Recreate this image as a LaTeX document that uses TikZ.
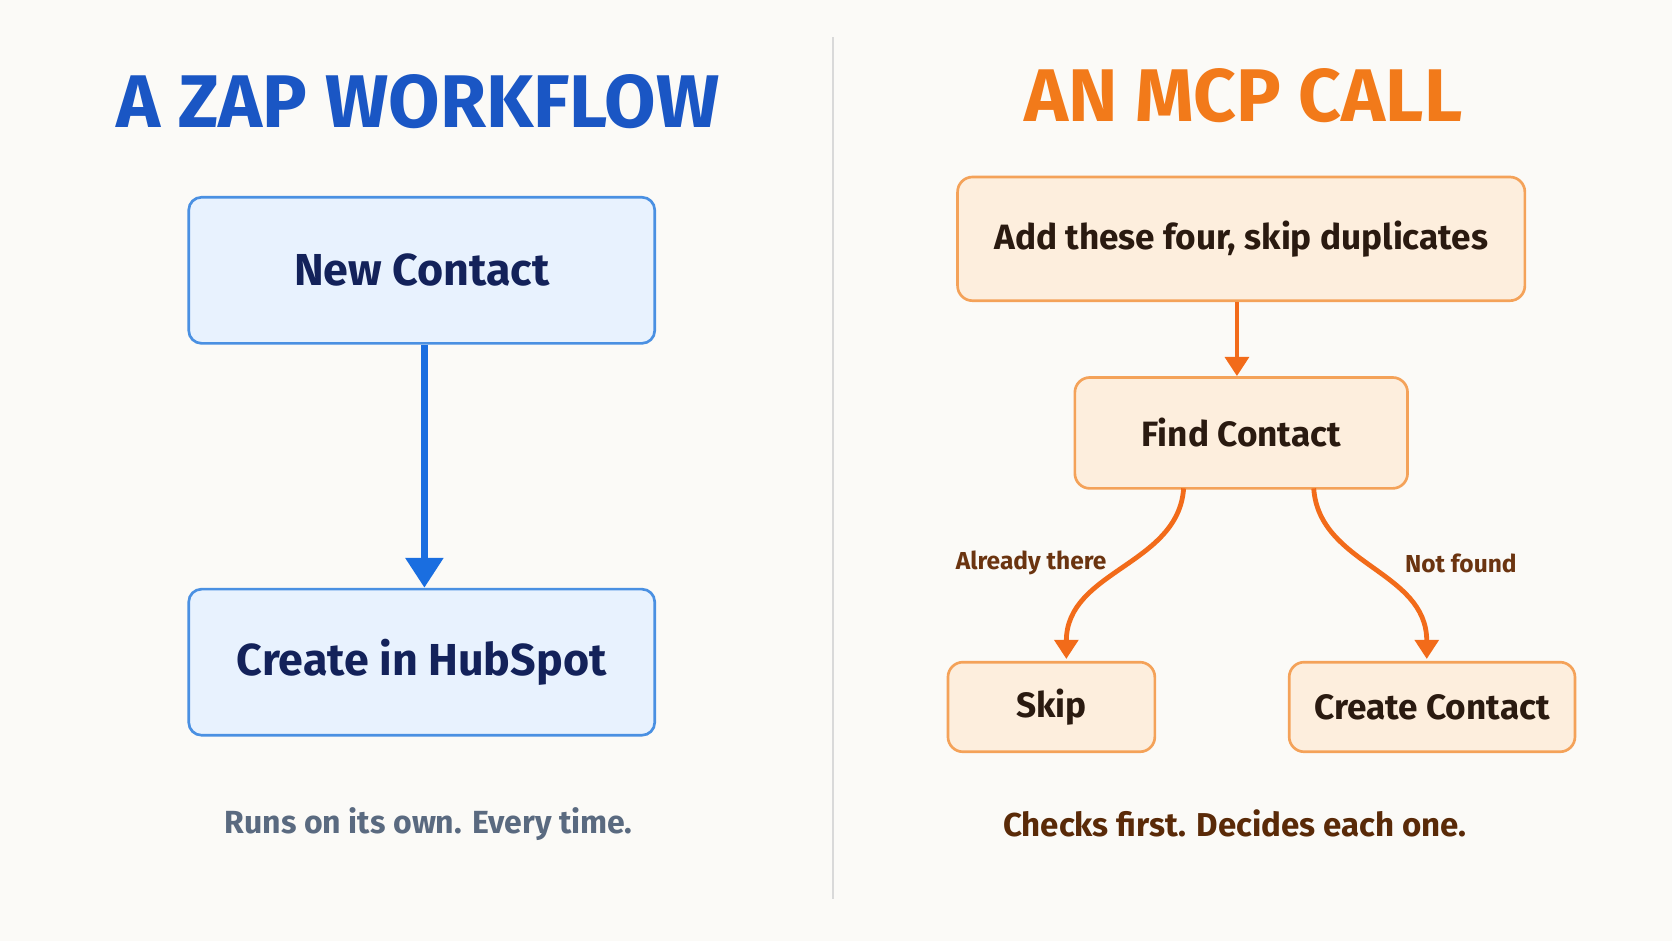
\documentclass[tikz,border=0pt]{standalone}
\usepackage{fontspec}
\setmainfont{Fira Sans}
\usetikzlibrary{arrows.meta}
\definecolor{bg}{HTML}{FBFAF7}
\definecolor{zblue}{HTML}{1A56C4}
\definecolor{zarrow}{HTML}{1A6EE0}
\definecolor{zfill}{HTML}{E8F2FE}
\definecolor{zbord}{HTML}{4A90E2}
\definecolor{navy}{HTML}{13225A}
\definecolor{cgray}{HTML}{5A6A80}
\definecolor{morange}{HTML}{F27A1A}
\definecolor{marrow}{HTML}{F26B1A}
\definecolor{mfill}{HTML}{FDEEDD}
\definecolor{mbord}{HTML}{F4A259}
\definecolor{mtext}{HTML}{2A1A10}
\definecolor{brown}{HTML}{6B3410}
\definecolor{cbrown}{HTML}{5A2A08}
\begin{document}
\begin{tikzpicture}[x=1pt,y=-1pt,
  zbox/.style={draw=zbord,line width=2.5pt,fill=zfill,rounded corners=12pt,text=navy,font=\fontsize{42}{48}\selectfont\bfseries,minimum width=437pt,minimum height=137pt,inner sep=0pt},
  mbox/.style={draw=mbord,line width=2.5pt,fill=mfill,rounded corners=14pt,text=mtext,font=\fontsize{33}{40}\selectfont\bfseries,inner sep=0pt},
  lbl/.style={text=brown,font=\fontsize{23}{28}\selectfont\bfseries},
  marr/.style={draw=marrow,line width=4.5pt,-{Triangle[length=18pt,width=22pt]}}]
\fill[bg] (0,0) rectangle (1568,882);
\useasboundingbox (0,0) rectangle (1568,882);
\draw[line width=2pt,draw=black!15] (781,35) -- (781,843);
\node[text=zblue,font=\fontsize{70}{80}\selectfont\bfseries] (t1) at (392,95) {A ZAP WORKFLOW};
\node[zbox] (nc) at (395.5,253.5) {New Contact};
\node[zbox] (ch) at (395.5,621) {Create in HubSpot};
\draw[draw=zarrow,line width=7pt,-{Triangle[length=28pt,width=34pt]}] (nc.south -| 398,0) -- (ch.north -| 398,0);
\node[text=cgray,font=\fontsize{30}{36}\selectfont\bfseries] (c1) at (402,773) {Runs on its own. Every time.};
\node[text=morange,font=\fontsize{70}{80}\selectfont\bfseries] (t2) at (1166,90) {AN MCP CALL};
\node[mbox,minimum width=532pt,minimum height=116pt] (add) at (1164,224) {Add these four, skip duplicates};
\node[mbox,minimum width=312pt,minimum height=104pt] (fc) at (1164,406) {Find Contact};
\node[mbox,minimum width=194pt,minimum height=84pt] (sk) at (986,663) {Skip};
\node[mbox,minimum width=268pt,minimum height=84pt] (cc) at (1343,663) {Create Contact};
\draw[marr] (add.south -| 1160,0) -- (fc.north -| 1160,0);
\coordinate (a1) at (1110,458);
\coordinate (a2) at (1000,618);
\coordinate (b1) at (1232,458);
\coordinate (b2) at (1338,618);
\draw[marr] (a1) .. controls (1105,530) and (1000,535) .. (a2);
\draw[marr] (b1) .. controls (1237,530) and (1338,535) .. (b2);
\node[lbl] (l1) at (967,528) {Already there};
\node[lbl] (l2) at (1370,528) {Not found};
\node[text=cbrown,font=\fontsize{31}{36}\selectfont\bfseries] (c2) at (1158,772) {Checks first. Decides each one.};
\end{tikzpicture}
\end{document}
